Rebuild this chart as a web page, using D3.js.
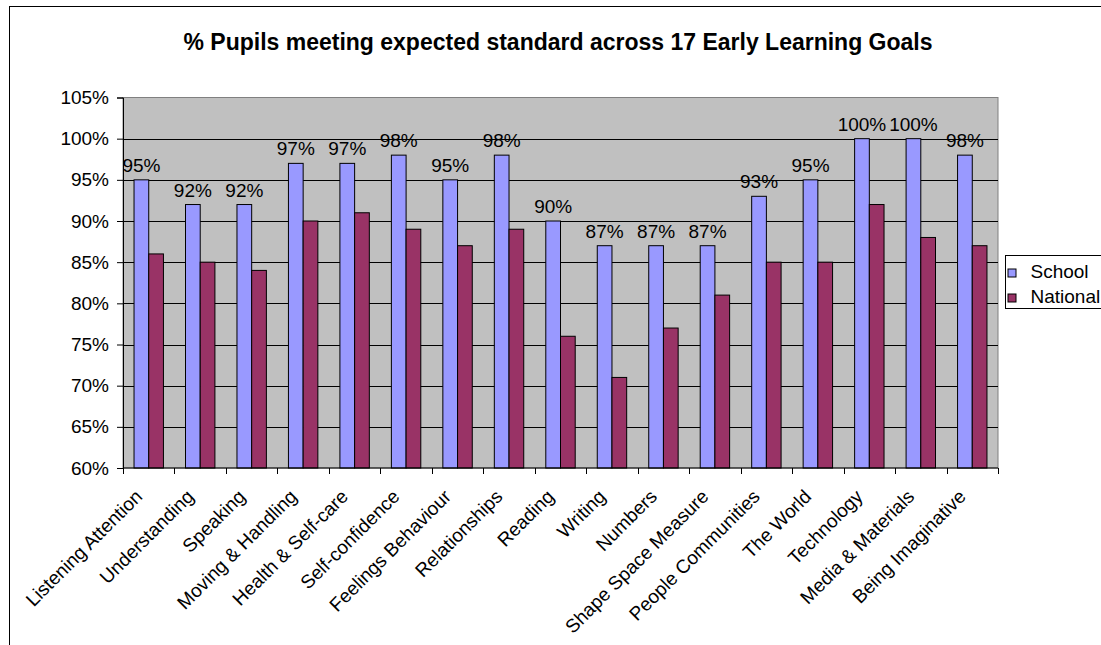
<!DOCTYPE html>
<html>
<head>
<meta charset="utf-8">
<script src="https://cdn.jsdelivr.net/npm/d3@7"></script>
<style>
  body { margin: 0; background: #fff; }
  svg text { font-family: "Liberation Sans", Arial, sans-serif; fill: #000; }
</style>
</head>
<body>
<svg id="chart" width="1101" height="645"></svg>
<script>
var categories = ["Listening Attention", "Understanding", "Speaking", "Moving & Handling",
    "Health & Self-care", "Self-confidence", "Feelings Behaviour", "Relationships", "Reading",
    "Writing", "Numbers", "Shape Space Measure", "People Communities", "The World",
    "Technology", "Media & Materials", "Being Imaginative"];
var school = [95, 92, 92, 97, 97, 98, 95, 98, 90, 87, 87, 87, 93, 95, 100, 100, 98];
var national = [86, 85, 84, 90, 91, 89, 87, 89, 76, 71, 77, 81, 85, 85, 92, 88, 87];
var series_names = ["School", "National"];
var series_colors = ["#9999FF", "#993366"];
var y_ticks = [60, 65, 70, 75, 80, 85, 90, 95, 100, 105];

var svg = d3.select("svg#chart");

const LEFT = 123, RIGHT = 998, TOP = 97.5, BOTTOM = 468;
const FONT = "19px";

// outer chart border (runs off the right and bottom of the picture)
svg.append("rect")
    .attr("x", 9.5).attr("y", 6.5)
    .attr("width", 1200).attr("height", 700)
    .attr("fill", "white")
    .style("stroke", "black")
    .style("stroke-width", 1);

svg.append("text")
    .attr("x", 558)
    .attr("y", 50)
    .attr("text-anchor", "middle")
    .style("font-size", "23px")
    .style("font-weight", "bold")
    .text("% Pupils meeting expected standard across 17 Early Learning Goals");

var x = d3.scaleBand().domain(categories).range([LEFT, RIGHT]);
var y = d3.scaleLinear().domain([60, 105]).range([BOTTOM, TOP]);
var bar_w = x.bandwidth() / 3.5;
var x_inner = d3.scaleBand().domain(series_names).range([bar_w * 0.75, bar_w * 2.75]);

svg.append("rect")
    .attr("x", LEFT).attr("y", y(105))
    .attr("width", RIGHT - LEFT).attr("height", BOTTOM - y(105))
    .attr("fill", "#C0C0C0")
    .style("stroke", "#808080")
    .style("stroke-width", 1);

svg.append("g").selectAll("line")
    .data(y_ticks.filter(d => d > 60 && d < 105))
    .join("line")
    .attr("x1", LEFT).attr("x2", RIGHT)
    .attr("y1", d => Math.round(y(d)) + 0.5).attr("y2", d => Math.round(y(d)) + 0.5)
    .style("stroke", "#000")
    .style("stroke-width", 1);

var rows = categories.map((c, i) => ({ cat: c, vals: [school[i], national[i]] }));

var groups = svg.append("g").selectAll("g")
    .data(rows)
    .join("g")
    .attr("transform", d => "translate(" + x(d.cat) + ",0)");

groups.selectAll("rect")
    .data(d => d.vals.map((v, k) => ({ name: series_names[k], value: v, color: series_colors[k] })))
    .join("rect")
    .attr("x", d => x_inner(d.name))
    .attr("y", d => y(d.value))
    .attr("width", x_inner.bandwidth())
    .attr("height", d => BOTTOM - y(d.value))
    .attr("fill", d => d.color)
    .style("stroke", "#000")
    .style("stroke-width", 1);

// data labels on the school bars
groups.append("text")
    .attr("x", d => x_inner("School") + x_inner.bandwidth() / 2)
    .attr("y", d => y(d.vals[0]) - 8)
    .attr("text-anchor", "middle")
    .style("font-size", FONT)
    .text(d => d.vals[0] + "%");

var y_axis = svg.append("g")
    .attr("transform", "translate(" + LEFT + ",0)")
    .call(d3.axisLeft(y).tickValues(y_ticks).tickSize(6).tickPadding(8).tickFormat(d => d + "%"));
y_axis.select(".domain").attr("stroke", "#000");
y_axis.selectAll("text").style("font-size", FONT).attr("fill", "#000");

var x_axis = svg.append("g")
    .attr("transform", "translate(0," + BOTTOM + ")");
x_axis.append("line")
    .attr("x1", LEFT).attr("x2", RIGHT)
    .style("stroke", "#000");
x_axis.selectAll("line.tick")
    .data(categories.concat(["end"]))
    .join("line")
    .attr("class", "tick")
    .attr("x1", (d, i) => Math.round(LEFT + i * x.step()) + 0.5)
    .attr("x2", (d, i) => Math.round(LEFT + i * x.step()) + 0.5)
    .attr("y1", 0).attr("y2", 6)
    .style("stroke", "#000");
x_axis.selectAll("text")
    .data(categories)
    .join("text")
    .attr("transform", d => "translate(" + (x(d) + x.bandwidth() / 2 - 10) + ",25) rotate(-45)")
    .attr("text-anchor", "end")
    .attr("dy", "0.35em")
    .style("font-size", FONT)
    .text(d => d);

// legend
var legend = svg.append("g").attr("transform", "translate(1005.5,255.5)");
legend.append("rect")
    .attr("width", 120).attr("height", 53)
    .attr("fill", "white")
    .style("stroke", "#000");
legend.selectAll("g")
    .data(series_names)
    .join("g")
    .attr("transform", (d, i) => "translate(0," + (i * 25) + ")")
    .each(function(d, i) {
        let g = d3.select(this);
        g.append("rect")
            .attr("x", 2.5).attr("y", 13.5)
            .attr("width", 8).attr("height", 8)
            .attr("fill", series_colors[i])
            .style("stroke", "#000");
        g.append("text")
            .attr("x", 25).attr("y", 22.5)
            .style("font-size", FONT)
            .text(d);
    });
</script>
</body>
</html>
